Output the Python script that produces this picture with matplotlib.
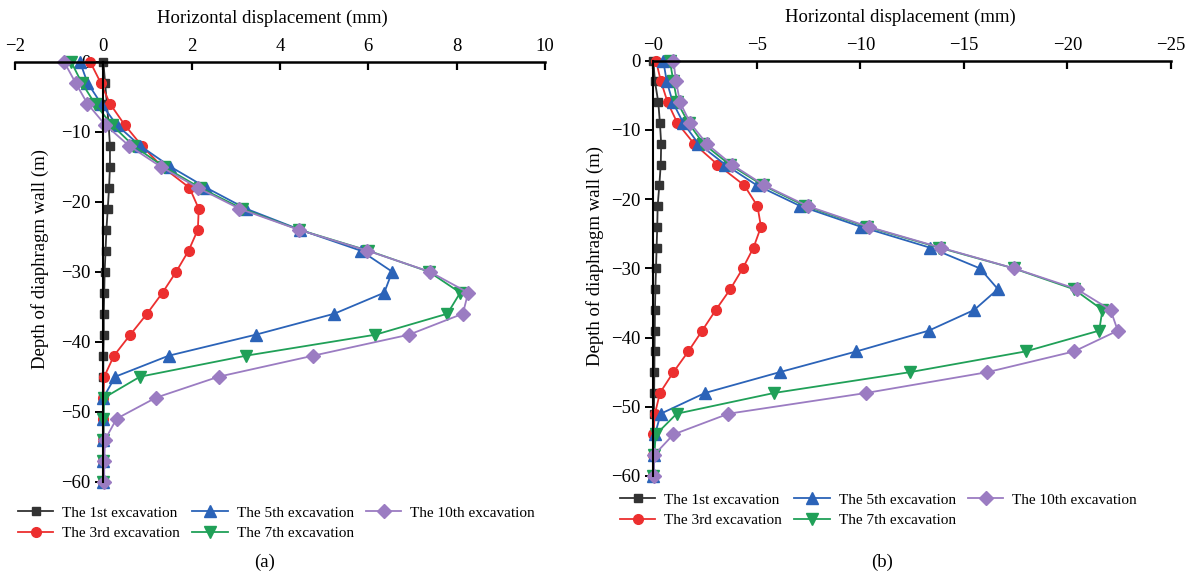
import matplotlib
matplotlib.use("Agg")
import matplotlib.pyplot as plt
from matplotlib.ticker import FixedLocator, FixedFormatter

plt.rcParams['font.family'] = ['Liberation Serif', 'DejaVu Serif']
plt.rcParams['axes.unicode_minus'] = True

# ---------------- DATA ----------------
depth = [0, -3, -6, -9, -12, -15, -18, -21, -24, -27, -30, -33, -36, -39, -42,
         -45, -48, -51, -54, -57, -60]

series_names = ["The 1st excavation", "The 3rd excavation", "The 5th excavation",
                "The 7th excavation", "The 10th excavation"]

# Panel (a) horizontal displacement (mm)
a_1st = [0.0, 0.04, 0.08, 0.12, 0.15, 0.15, 0.13, 0.10, 0.07, 0.05, 0.03, 0.02,
         0.01, 0.01, 0.0, 0.0, 0.0, 0.0, 0.0, 0.0, 0.0]
a_3rd = [-0.30, -0.06, 0.15, 0.48, 0.87, 1.33, 1.95, 2.16, 2.14, 1.93, 1.65, 1.34,
         0.99, 0.61, 0.24, 0.02, 0.0, 0.0, 0.0, 0.0, 0.0]
a_5th = [-0.53, -0.36, -0.05, 0.30, 0.83, 1.52, 2.33, 3.23, 4.45, 5.83, 6.54, 6.36,
         5.23, 3.45, 1.48, 0.27, 0.0, 0.0, 0.0, 0.0, 0.0]
a_7th = [-0.73, -0.49, -0.19, 0.19, 0.68, 1.37, 2.19, 3.14, 4.43, 6.00, 7.37, 8.08,
         7.79, 6.16, 3.23, 0.83, 0.02, 0.0, 0.0, 0.0, 0.0]
a_10th = [-0.89, -0.63, -0.36, 0.04, 0.58, 1.30, 2.14, 3.08, 4.42, 5.98, 7.39, 8.26,
          8.14, 6.92, 4.75, 2.61, 1.19, 0.30, 0.04, 0.02, 0.02]

# Panel (b) horizontal displacement (mm)
b_1st = [0.0, -0.08, -0.24, -0.32, -0.38, -0.36, -0.29, -0.21, -0.19, -0.16, -0.13,
         -0.10, -0.08, -0.07, -0.06, -0.05, -0.04, -0.03, -0.02, -0.01, 0.0]
b_3rd = [-0.13, -0.37, -0.69, -1.16, -1.97, -3.10, -4.39, -5.03, -5.20, -4.84, -4.32,
         -3.72, -3.02, -2.36, -1.69, -0.97, -0.32, -0.08, 0.0, 0.0, 0.0]
b_5th = [-0.48, -0.65, -0.94, -1.45, -2.18, -3.47, -5.00, -7.10, -10.03, -13.35,
         -15.77, -16.64, -15.50, -13.30, -9.81, -6.10, -2.50, -0.36, -0.08, -0.04, 0.0]
b_7th = [-0.80, -0.97, -1.16, -1.70, -2.42, -3.68, -5.29, -7.34, -10.32, -13.80,
         -17.40, -20.30, -21.69, -21.53, -17.98, -12.39, -5.84, -1.13, -0.13, -0.03, 0.0]
b_10th = [-0.97, -1.10, -1.29, -1.78, -2.58, -3.79, -5.36, -7.45, -10.40, -13.87,
          -17.42, -20.45, -22.08, -22.43, -20.32, -16.13, -10.29, -3.63, -0.97, -0.03, -0.03]

a_xticks = [-2, 0, 2, 4, 6, 8, 10]
a_xticklabels = ["\u22122", "0", "2", "4", "6", "8", "10"]
b_xticks = [0, -5, -10, -15, -20, -25]
b_xticklabels = ["\u22120", "\u22125", "\u221210", "\u221215", "\u221220", "\u221225"]
yticks = [0, -10, -20, -30, -40, -50, -60]
yticklabels = ["0", "\u221210", "\u221220", "\u221230", "\u221240", "\u221250", "\u221260"]

# ---------------- STYLE ----------------
colors = ["#333333", "#ec2f2f", "#2b63b8", "#20a058", "#9b7cc2"]
markers = ["s", "o", "^", "v", "D"]
msizes = [6, 7, 8.5, 8.5, 7.2]

W, H = 1191, 580
fig = plt.figure(figsize=(W / 100, H / 100), dpi=100)

def fx(px):
    return px / W

def fy(py):
    return 1 - py / H

ax_a = fig.add_axes([fx(15), fy(481.7), fx(545) - fx(15), fy(61.7) - fy(481.7)])
ax_b = fig.add_axes([fx(653.3), fy(476), fx(1171) - fx(653.3), fy(60.7) - fy(476)])

def draw(ax, data, xlim, xticks, xticklabels, legend_anchor, xlab_x, ylab_x):
    handles = []
    for vals, name, c, m, ms in zip(data, series_names, colors, markers, msizes):
        h, = ax.plot(vals, depth, color=c, marker=m, markersize=ms, lw=1.3,
                     markeredgecolor=c, label=name, clip_on=False)
        handles.append(h)
    ax.set_xlim(*xlim)
    ax.set_ylim(-60, 0)
    ax.xaxis.tick_top()
    ax.xaxis.set_label_position('top')
    ax.xaxis.set_major_locator(FixedLocator(xticks))
    ax.xaxis.set_major_formatter(FixedFormatter(xticklabels))
    ax.yaxis.set_major_locator(FixedLocator(yticks))
    ax.yaxis.set_major_formatter(FixedFormatter(yticklabels))
    for s in ['right', 'bottom']:
        ax.spines[s].set_visible(False)
    ax.spines['top'].set_linewidth(1.8)
    ax.spines['left'].set_linewidth(1.5)
    ax.spines['left'].set_position(('data', 0))
    ax.tick_params(axis='x', direction='in', length=6, width=1.6, labelsize=13.5, pad=5)
    ax.tick_params(axis='y', direction='out', length=6, width=1.4, labelsize=13.5, pad=3)
    ax.set_xlabel("Horizontal displacement (mm)", fontsize=13.5)
    ax.set_ylabel("Depth of diaphragm wall (m)", fontsize=13.5)
    ax.xaxis.set_label_coords(xlab_x, 1.104)
    ax.xaxis.label.set_va('center')
    ax.yaxis.set_label_coords(ylab_x, 0.53)
    ax.yaxis.label.set_va('center')
    ax.patch.set_visible(False)
    ax.legend(handles=handles, loc='upper left', bbox_to_anchor=legend_anchor,
              bbox_transform=fig.transFigure, ncol=3, frameon=False,
              fontsize=11, handlelength=2.3, handletextpad=0.6,
              columnspacing=0.8, labelspacing=0.45, borderpad=0, borderaxespad=0)

draw(ax_a, [a_1st, a_3rd, a_5th, a_7th, a_10th], (-2, 10), a_xticks, a_xticklabels,
     (fx(18), fy(506)), 0.485, 0.047)
draw(ax_b, [b_1st, b_3rd, b_5th, b_7th, b_10th], (0, -25), b_xticks, b_xticklabels,
     (fx(620), fy(493)), 0.477, -0.113)

fig.text(fx(265), fy(562), "(a)", ha='center', va='center', fontsize=13.5)
fig.text(fx(882), fy(562), "(b)", ha='center', va='center', fontsize=13.5)

fig.savefig("out.png", dpi=100)
